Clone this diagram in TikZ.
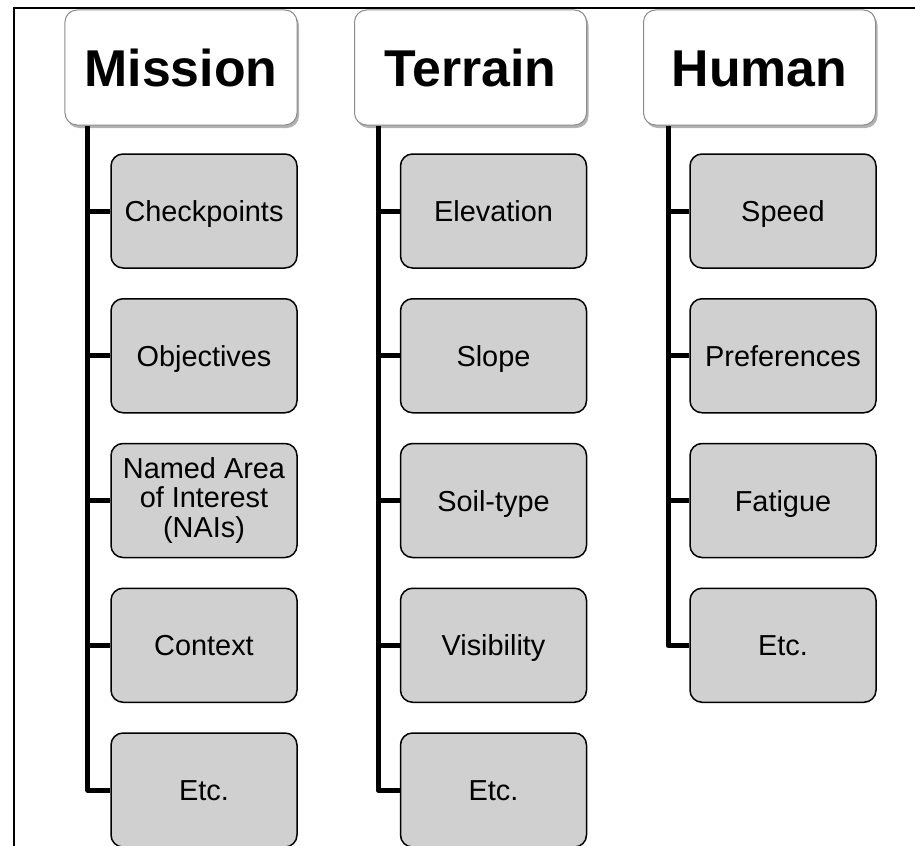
\documentclass[tikz,border=0pt]{standalone}
\usepackage{fontspec}
\setmainfont{Liberation Sans}
\usetikzlibrary{shadows,calc}
\definecolor{itemgray}{RGB}{208,208,208}
\definecolor{headline}{RGB}{140,140,140}
\begin{document}
\begin{tikzpicture}[x=1bp,y=-1bp,
  header/.style={draw=headline, line width=1bp, fill=white, rounded corners=12bp,
    minimum width=232bp, minimum height=115bp, inner sep=0pt,
    text height=37bp, text depth=0pt,
    font=\fontsize{52}{60}\selectfont\bfseries,
    drop shadow={shadow xshift=2bp, shadow yshift=-3bp, fill=black, opacity=0.3}},
  itembox/.style={draw=black, line width=1.5bp, fill=itemgray, rounded corners=12bp,
    minimum width=186bp, minimum height=114bp, inner sep=0pt, align=center,
    font=\fontsize{29}{30}\selectfont},
  item/.style={itembox, text height=21bp, text depth=0pt},
  trunk/.style={line width=5bp, line join=round},
]
\useasboundingbox (0,0) rectangle (915,846);
\clip (0,0) rectangle (915,846);
\fill[white] (0,0) rectangle (915,846);

% outer frame (runs past the right and bottom edges)
\draw[line width=2bp] (14,8) rectangle (940,880);

% headers
\node[header] (hm) at (181,67.5) {Mission};
\node[header] (ht) at (470.5,67.5) {Terrain};
\node[header] (hh) at (759.5,67.5) {Human};

% Mission items
\node[item] (m1) at (204,211)    {Checkpoints};
\node[item] (m2) at (204,355.75) {Objectives};
\node[itembox] (m3) at (204,500.5)  {Named Area\\of Interest\\(NAIs)};
\node[item] (m4) at (204,645.25) {Context};
\node[item] (m5) at (204,790)    {Etc.};

% Terrain items
\node[item] (t1) at (493.5,211)    {Elevation};
\node[item] (t2) at (493.5,355.75) {Slope};
\node[item] (t3) at (493.5,500.5)  {Soil-type};
\node[item] (t4) at (493.5,645.25) {Visibility};
\node[item] (t5) at (493.5,790)    {Etc.};

% Human items
\node[item] (u1) at (783,211)    {Speed};
\node[item] (u2) at (783,355.75) {Preferences};
\node[item] (u3) at (783,500.5)  {Fatigue};
\node[item] (u4) at (783,645.25) {Etc.};

% trunk lines
\coordinate (ms) at ($(hm.south west)+(23.5,0)$);
\coordinate (ts) at ($(ht.south west)+(24,0)$);
\coordinate (us) at ($(hh.south west)+(25,0)$);

\draw[trunk] (ms) |- (m5.west);
\foreach \n in {m1,m2,m3,m4} \draw[trunk] (ms |- \n.west) -- (\n.west);

\draw[trunk] (ts) |- (t5.west);
\foreach \n in {t1,t2,t3,t4} \draw[trunk] (ts |- \n.west) -- (\n.west);

\draw[trunk] (us) |- (u4.west);
\foreach \n in {u1,u2,u3} \draw[trunk] (us |- \n.west) -- (\n.west);
\end{tikzpicture}
\end{document}
